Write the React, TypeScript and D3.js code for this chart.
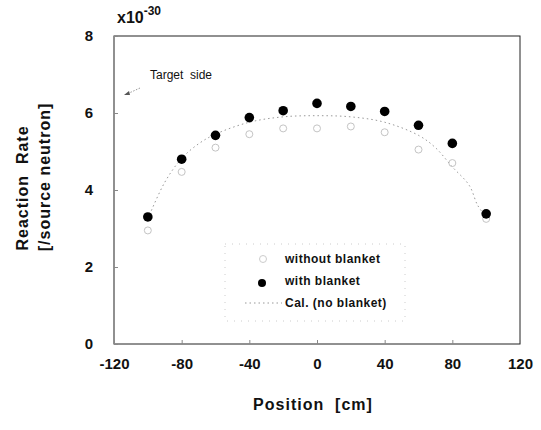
import React, { useEffect, useRef } from 'react';
import * as d3 from 'd3';

// positions [cm] and reaction rates (x1e-30 per source neutron)
const positions = [-100, -80, -60, -40, -20, 0, 20, 40, 60, 80, 100];
const withBlanket = [3.3, 4.8, 5.42, 5.88, 6.06, 6.25, 6.17, 6.04, 5.68, 5.21, 3.38];
const withoutBlanket = [2.95, 4.47, 5.1, 5.45, 5.6, 5.6, 5.65, 5.5, 5.05, 4.7, 3.25];

const calcX = [-100, -90, -80, -70, -60, -40, -20, 0, 20, 40, 60, 70, 80, 90, 95, 100];
const calcY = [3.25, 4.2, 4.82, 5.2, 5.45, 5.76, 5.9, 5.93, 5.9, 5.76, 5.42, 5.1, 4.6, 4.12, 3.6, 3.3];

const xTicks = [-120, -80, -40, 0, 40, 80, 120];
const yTicks = [0, 2, 4, 6, 8];

const legendItems = ['without blanket', 'with blanket', 'Cal. (no blanket)'];

const App = () => {
  const svgRef = useRef(null);

  useEffect(() => {
    const W = 541, H = 430;
    const margin = { top: 36, right: 21, bottom: 86, left: 114 };
    const width = W - margin.left - margin.right;
    const height = H - margin.top - margin.bottom;

    const root = d3.select(svgRef.current);
    root.selectAll('*').remove();
    root.attr('width', W).attr('height', H);

    const svg = root.append('g')
      .attr('transform', `translate(${margin.left},${margin.top})`);

    const xScale = d3.scaleLinear().domain([-120, 120]).range([0, width]);
    const yScale = d3.scaleLinear().domain([0, 8]).range([height, 0]);

    const font = 'Liberation Sans, Arial, sans-serif';

    // frame
    svg.append('rect')
      .attr('width', width).attr('height', height)
      .attr('fill', 'none').attr('stroke', '#222').attr('stroke-width', 1);

    // axes (tick labels only, short inner ticks), plain hyphen for minus
    const xAxis = svg.append('g')
      .attr('transform', `translate(0,${height})`)
      .call(d3.axisBottom(xScale).tickValues(xTicks).tickSize(-4).tickPadding(14)
        .tickFormat(d => String(d)));
    const yAxis = svg.append('g')
      .call(d3.axisLeft(yScale).tickValues(yTicks).tickSize(-4).tickPadding(21)
        .tickFormat(d => String(d)));
    [xAxis, yAxis].forEach(a => {
      a.select('.domain').remove();
      a.selectAll('line').attr('stroke', '#888');
      a.selectAll('text')
        .style('font-family', font)
        .style('font-size', '15px')
        .style('font-weight', 'bold')
        .attr('fill', '#111');
    });

    // calculation curve
    const line = d3.line()
      .x((d, i) => xScale(calcX[i]))
      .y(d => yScale(d))
      .curve(d3.curveCatmullRom);
    svg.append('path')
      .datum(calcY)
      .attr('d', line)
      .attr('fill', 'none')
      .attr('stroke', '#999')
      .attr('stroke-width', 1)
      .attr('stroke-dasharray', '1.5,3');

    // without blanket (open, faint)
    svg.selectAll('circle.open')
      .data(withoutBlanket)
      .enter()
      .append('circle')
      .attr('class', 'open')
      .attr('cx', (d, i) => xScale(positions[i]))
      .attr('cy', d => yScale(d))
      .attr('r', 3.5)
      .attr('fill', 'none')
      .attr('stroke', '#c4c4c4')
      .attr('stroke-width', 1);

    // with blanket (filled)
    svg.selectAll('circle.filled')
      .data(withBlanket)
      .enter()
      .append('circle')
      .attr('class', 'filled')
      .attr('cx', (d, i) => xScale(positions[i]))
      .attr('cy', d => yScale(d))
      .attr('r', 4.8)
      .attr('fill', '#000');

    // target side note
    svg.append('text')
      .attr('x', 36).attr('y', 43)
      .style('font-family', font).style('font-size', '12px')
      .style('white-space', 'pre')
      .attr('fill', '#111')
      .text('Target  side');
    svg.append('line')
      .attr('x1', 26).attr('y1', 52).attr('x2', 13).attr('y2', 58)
      .attr('stroke', '#999').attr('stroke-dasharray', '1.5,1.5');
    svg.append('path')
      .attr('d', 'M10,59 L15,55 L16,59 Z')
      .attr('fill', '#555');

    // legend
    const lg = svg.append('g').attr('transform', 'translate(111,208)');
    lg.append('rect')
      .attr('width', 180).attr('height', 77)
      .attr('fill', 'none').attr('stroke', '#ccc')
      .attr('stroke-dasharray', '1,6');
    legendItems.forEach((t, i) => {
      const y = 15 + i * 22;
      lg.append('text')
        .attr('x', 60).attr('y', y + 4)
        .style('font-family', font).style('font-size', '12px')
        .style('font-weight', 'bold')
        .style('letter-spacing', '0.5px')
        .attr('fill', '#111')
        .text(t);
      if (i === 0) {
        lg.append('circle').attr('cx', 38).attr('cy', y).attr('r', 3.5)
          .attr('fill', 'none').attr('stroke', '#ccc');
      } else if (i === 1) {
        lg.append('circle').attr('cx', 37).attr('cy', y + 2).attr('r', 4)
          .attr('fill', '#000');
      } else {
        lg.append('line').attr('x1', 20).attr('x2', 57).attr('y1', y).attr('y2', y)
          .attr('stroke', '#999').attr('stroke-dasharray', '1.5,3');
      }
    });

    // multiplier
    const mult = root.append('text')
      .attr('x', 117).attr('y', 23)
      .style('font-family', font).style('font-size', '16px')
      .style('font-weight', 'bold')
      .attr('fill', '#111');
    mult.append('tspan').text('x10');
    mult.append('tspan').attr('dy', -8).style('font-size', '12px').text('-30');

    // axis titles
    root.append('text')
      .attr('x', margin.left + width / 2 - 4).attr('y', 410)
      .attr('text-anchor', 'middle')
      .style('font-family', font).style('font-size', '16px')
      .style('font-weight', 'bold')
      .style('letter-spacing', '1px')
      .style('white-space', 'pre')
      .attr('fill', '#111')
      .text('Position  [cm]');

    const yt = root.append('g').attr('transform', `translate(0,${margin.top + height / 2 - 5}) rotate(-90)`);
    yt.append('text')
      .attr('x', -3).attr('y', 28)
      .attr('text-anchor', 'middle')
      .style('font-family', font).style('font-size', '16px')
      .style('font-weight', 'bold')
      .style('letter-spacing', '1px')
      .style('white-space', 'pre')
      .attr('fill', '#111')
      .text('Reaction  Rate');
    yt.append('text')
      .attr('x', 8).attr('y', 50)
      .attr('text-anchor', 'middle')
      .style('font-family', font).style('font-size', '16px')
      .style('font-weight', 'bold')
      .style('letter-spacing', '1px')
      .attr('fill', '#111')
      .text('[/source neutron]');
  }, []);

  return <svg ref={svgRef} style={{ position: 'absolute', left: 0, top: 0 }}></svg>;
};

export default App;
